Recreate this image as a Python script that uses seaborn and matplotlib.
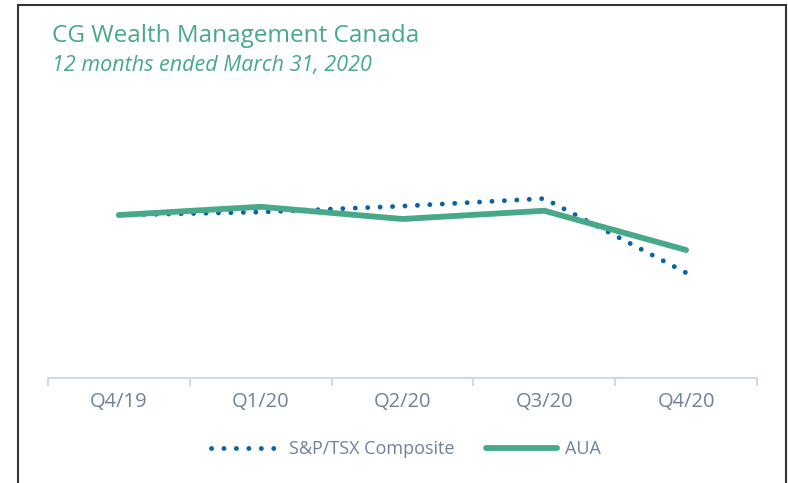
import pandas as pd
import seaborn as sns
import matplotlib.pyplot as plt
from matplotlib.patches import Rectangle

# Quarterly index values (Q4/19 = 100)
quarters = ['Q4/19', 'Q1/20', 'Q2/20', 'Q3/20', 'Q4/20']
sp_tsx = [100.0, 100.9, 102.7, 105.0, 82.5]
aua = [100.0, 102.5, 98.8, 101.3, 89.4]

green = '#48a98a'
blue = '#0a63a3'
label_col = '#6f819b'

sns.set_theme(style='white')
plt.rcParams['font.family'] = ['Open Sans', 'DejaVu Sans']

df = pd.DataFrame({'quarter': quarters, 'S&P/TSX Composite': sp_tsx, 'AUA': aua})
df['x'] = range(len(quarters))

fig = plt.figure(figsize=(7.88, 4.83), dpi=100)
ax = fig.add_axes([48 / 788, 105 / 483, 709 / 788, 288 / 483])

sns.lineplot(data=df, x='x', y='S&P/TSX Composite', ax=ax, color=blue, lw=3.5,
             linestyle=(0, (0.01, 2.55)), dash_capstyle='round', label='S&P/TSX Composite')
sns.lineplot(data=df, x='x', y='AUA', ax=ax, color=green, lw=4.2,
             solid_capstyle='round', label='AUA')

ax.set_xlim(-0.5, len(quarters) - 0.5)
ax.set_ylim(50.6, 137.9)
ax.set_yticks([])
ax.set_xlabel('')
ax.set_ylabel('')
for s in ['top', 'right', 'left']:
    ax.spines[s].set_visible(False)
ax.spines['bottom'].set_color('#cfd9e6')
ax.spines['bottom'].set_linewidth(1.5)

# category labels centred, tick marks on the category boundaries
ax.set_xticks(range(len(quarters)))
ax.set_xticklabels(quarters, color=label_col, fontsize=14.5)
ax.tick_params(axis='x', which='major', bottom=True, length=0, pad=10)
ax.set_xticks([i - 0.5 for i in range(len(quarters) + 1)], minor=True)
ax.tick_params(axis='x', which='minor', bottom=True, length=6, width=1.5,
               color='#cfd9e6', direction='out')

ax.get_legend().remove()
handles, labels = ax.get_legend_handles_labels()
fig.legend(handles, labels, loc='center', bbox_to_anchor=(0.515, 0.07), ncol=2,
           frameon=False, handlelength=3.9, columnspacing=1.75, handletextpad=0.45,
           fontsize=13, labelcolor=label_col)

fig.text(52 / 788, 1 - 36 / 483, 'CG Wealth Management Canada', color=green,
         fontsize=17.5, va='center', ha='left')
fig.text(52 / 788, 1 - 65 / 483, '12 months ended March 31, 2020', color=green,
         fontsize=15.5, style='italic', va='center', ha='left')

fig.add_artist(Rectangle((18 / 788, -0.05), 768 / 788, 1 - 5 / 483 + 0.05,
                         transform=fig.transFigure, fill=False, edgecolor='#333333', lw=1.5))

fig.savefig('out.png', dpi=100)
